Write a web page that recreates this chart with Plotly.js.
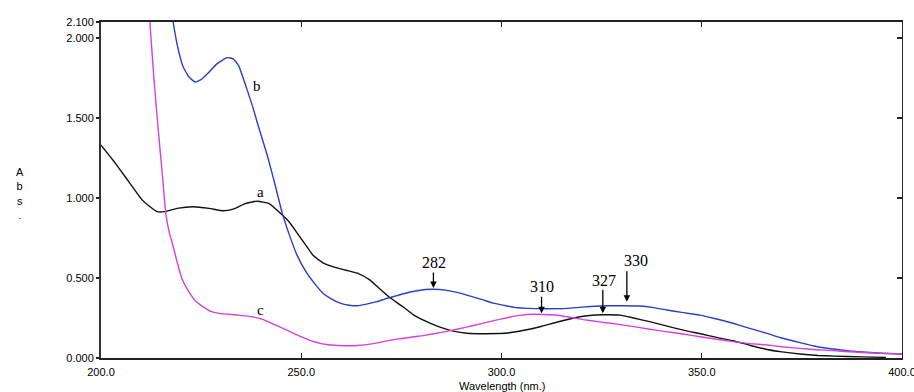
<!DOCTYPE html>
<html>
<head>
<meta charset="utf-8">
<script src="https://cdn.plot.ly/plotly-3.0.1.min.js"></script>
<style>html,body{margin:0;padding:0;background:#fff;}#chart{width:914px;height:392px;}</style>
</head>
<body>
<div id="chart"></div>
<script>
// Curve a (black)
const aX = [200, 203.5, 206.7, 210.2, 212, 214, 216, 219, 223, 227, 230.5, 233, 236, 239, 242, 245, 247, 249, 251, 253, 255.4, 258, 261, 264, 267, 269.7, 272, 275.4, 278, 282, 285, 288, 291.4, 296, 302, 306, 309.6, 314, 318.9, 322, 325.3, 329.6, 333, 337, 342.8, 347, 350, 354, 357.8, 362, 366, 370, 374.5, 379, 383, 390, 396];
const aY = [1.33, 1.22, 1.11, 0.99, 0.95, 0.915, 0.915, 0.935, 0.945, 0.935, 0.92, 0.93, 0.965, 0.98, 0.965, 0.90, 0.85, 0.78, 0.71, 0.64, 0.595, 0.57, 0.55, 0.53, 0.49, 0.43, 0.38, 0.32, 0.27, 0.22, 0.19, 0.168, 0.155, 0.152, 0.158, 0.175, 0.195, 0.225, 0.255, 0.266, 0.27, 0.268, 0.25, 0.227, 0.19, 0.165, 0.15, 0.127, 0.108, 0.08, 0.055, 0.038, 0.025, 0.016, 0.012, 0.007, 0.004];
// Curve b (blue)
const bX = [218, 219, 220.5, 222, 223.5, 225, 226.7, 229, 231.5, 233, 234.3, 235.5, 236.7, 238, 239.2, 240.5, 241.7, 243.5, 245.2, 247.2, 249, 251.4, 253.5, 255.4, 257.5, 259.7, 262, 263.9, 266, 268.9, 271, 273.9, 276, 278.9, 281, 283, 286, 288.9, 292, 295.4, 298, 301.4, 304, 306.4, 311, 316.4, 320, 324.6, 330, 334.6, 338, 341.3, 345, 349.6, 352, 355, 357.8, 362, 366.3, 370, 374.5, 378, 382.8, 387, 391.2, 395, 400];
const bY = [2.1, 1.96, 1.82, 1.755, 1.725, 1.74, 1.78, 1.84, 1.877, 1.87, 1.83, 1.75, 1.66, 1.56, 1.456, 1.35, 1.25, 1.08, 0.91, 0.757, 0.64, 0.53, 0.46, 0.405, 0.37, 0.343, 0.33, 0.327, 0.335, 0.352, 0.37, 0.39, 0.405, 0.42, 0.428, 0.43, 0.424, 0.41, 0.388, 0.363, 0.343, 0.325, 0.314, 0.31, 0.308, 0.31, 0.318, 0.325, 0.327, 0.325, 0.315, 0.30, 0.285, 0.268, 0.254, 0.236, 0.217, 0.185, 0.154, 0.125, 0.096, 0.075, 0.056, 0.044, 0.036, 0.03, 0.025];
// Curve c (magenta)
const cX = [212.2, 213.2, 214.3, 215.3, 216.2, 217, 218, 219, 220.3, 221.8, 223.5, 225.5, 227.6, 230, 233.5, 236, 238.5, 240.5, 242.6, 245, 247.2, 249.5, 252.2, 255, 258, 261, 264, 268, 272, 276, 280.4, 285, 288.9, 293, 297, 302, 305, 307.9, 310.5, 313.9, 317, 320.4, 324.5, 328.8, 333, 337, 341, 345.3, 349.6, 353, 357.8, 362, 366.3, 370, 374.5, 378.5, 382.8, 387, 391.2, 395, 400];
const cY = [2.1, 1.75, 1.425, 1.15, 0.90, 0.79, 0.70, 0.60, 0.49, 0.42, 0.36, 0.32, 0.29, 0.277, 0.27, 0.263, 0.254, 0.24, 0.217, 0.19, 0.165, 0.138, 0.11, 0.09, 0.08, 0.077, 0.078, 0.09, 0.11, 0.125, 0.14, 0.16, 0.18, 0.203, 0.227, 0.255, 0.268, 0.273, 0.272, 0.267, 0.255, 0.24, 0.226, 0.212, 0.196, 0.18, 0.165, 0.15, 0.133, 0.12, 0.102, 0.09, 0.081, 0.07, 0.06, 0.052, 0.046, 0.039, 0.033, 0.029, 0.025];

const xTicks = [200, 250, 300, 350, 400];
const xTickText = ["200.0", "250.0", "300.0", "350.0", "400.0"];
const yTicks = [0, 0.5, 1.0, 1.5, 2.0, 2.1];
const yTickText = ["0.000", "0.500", "1.000", "1.500", "2.000", "2.100"];

// Curve labels
const curveLabels = [
  {t: "a", x: 239.9, y: 1.04},
  {t: "b", x: 238.9, y: 1.70},
  {t: "c", x: 239.7, y: 0.30}
];
// Peak markers
const peaks = [
  {t: "282", x: 283.0, tip: 0.437, len: 17, tx: 283.2, ty: 0.6},
  {t: "310", x: 310.0, tip: 0.28, len: 18, tx: 310.2, ty: 0.445},
  {t: "327", x: 325.3, tip: 0.279, len: 25, tx: 325.6, ty: 0.487},
  {t: "330", x: 331.3, tip: 0.352, len: 32, tx: 333.6, ty: 0.612}
];

const lineStyle = {shape: "spline", smoothing: 0.4};
const traces = [
  {x: aX, y: aY, mode: "lines", line: Object.assign({color: "#111111", width: 1.4}, lineStyle), hoverinfo: "skip"},
  {x: bX, y: bY, mode: "lines", line: Object.assign({color: "#2b3fc6", width: 1.4}, lineStyle), hoverinfo: "skip"},
  {x: cX, y: cY, mode: "lines", line: Object.assign({color: "#d83fd8", width: 1.4}, lineStyle), hoverinfo: "skip"},
  {x: [], y: [], yaxis: "y2", mode: "lines", hoverinfo: "skip", showlegend: false}
];

const annotations = [];
curveLabels.forEach(l => annotations.push({
  x: l.x, y: l.y, xref: "x", yref: "y", text: l.t, showarrow: false,
  font: {family: "Liberation Serif", size: 15, color: "#000"}
}));
peaks.forEach(p => {
  annotations.push({
    x: p.tx, y: p.ty, xref: "x", yref: "y", text: p.t, showarrow: false,
    font: {family: "Liberation Serif", size: 16, color: "#000"}
  });
  annotations.push({
    x: p.x, y: p.tip, xref: "x", yref: "y", text: "", showarrow: true,
    ax: 0, ay: -p.len, arrowhead: 2, arrowsize: 1, arrowwidth: 1.3, arrowcolor: "#000", standoff: 0
  });
});
annotations.push({
  x: -0.1086, y: 0.49, xref: "paper", yref: "paper", text: "A<br>b<br>s<br>.", showarrow: false,
  font: {family: "Liberation Sans", size: 11, color: "#000"}, align: "center"
});
annotations.push({
  x: 0.5, y: -0.082, xref: "paper", yref: "paper", text: "Wavelength (nm.)", showarrow: false,
  yanchor: "middle", font: {family: "Liberation Sans", size: 11, color: "#000"}
});

const layout = {
  width: 914, height: 392,
  margin: {l: 101, r: 12, t: 22, b: 34},
  paper_bgcolor: "#fff", plot_bgcolor: "#fff",
  showlegend: false,
  font: {family: "Liberation Sans", size: 11, color: "#000"},
  xaxis: {
    range: [200, 400], tickvals: xTicks, ticktext: xTickText,
    ticks: "inside", ticklen: 5, tickwidth: 1.2, tickcolor: "#222",
    showline: true, linecolor: "#222", linewidth: 1.8, mirror: "ticks",
    showgrid: false, zeroline: false, fixedrange: true,
    ticklabeloverflow: "allow", ticklabelstandoff: 3,
    tickfont: {family: "Liberation Sans", size: 11, color: "#000"}
  },
  yaxis: {
    range: [0, 2.1], tickvals: yTicks, ticktext: yTickText,
    ticks: "outside", ticklen: 3, tickwidth: 1.2, tickcolor: "#222",
    showline: true, linecolor: "#333", linewidth: 2, mirror: false,
    showgrid: false, zeroline: false, fixedrange: true,
    tickfont: {family: "Liberation Sans", size: 11, color: "#000"}
  },
  yaxis2: {
    overlaying: "y", side: "right", range: [0, 2.1], tickvals: [0, 0.5, 1.0, 1.5, 2.0],
    ticks: "inside", ticklen: 5, tickwidth: 1.2, tickcolor: "#222",
    showticklabels: false, showline: true, linecolor: "#222", linewidth: 1.4,
    showgrid: false, zeroline: false, fixedrange: true
  },
  annotations: annotations
};

Plotly.newPlot("chart", traces, layout, {staticPlot: true, displayModeBar: false});
</script>
</body>
</html>
